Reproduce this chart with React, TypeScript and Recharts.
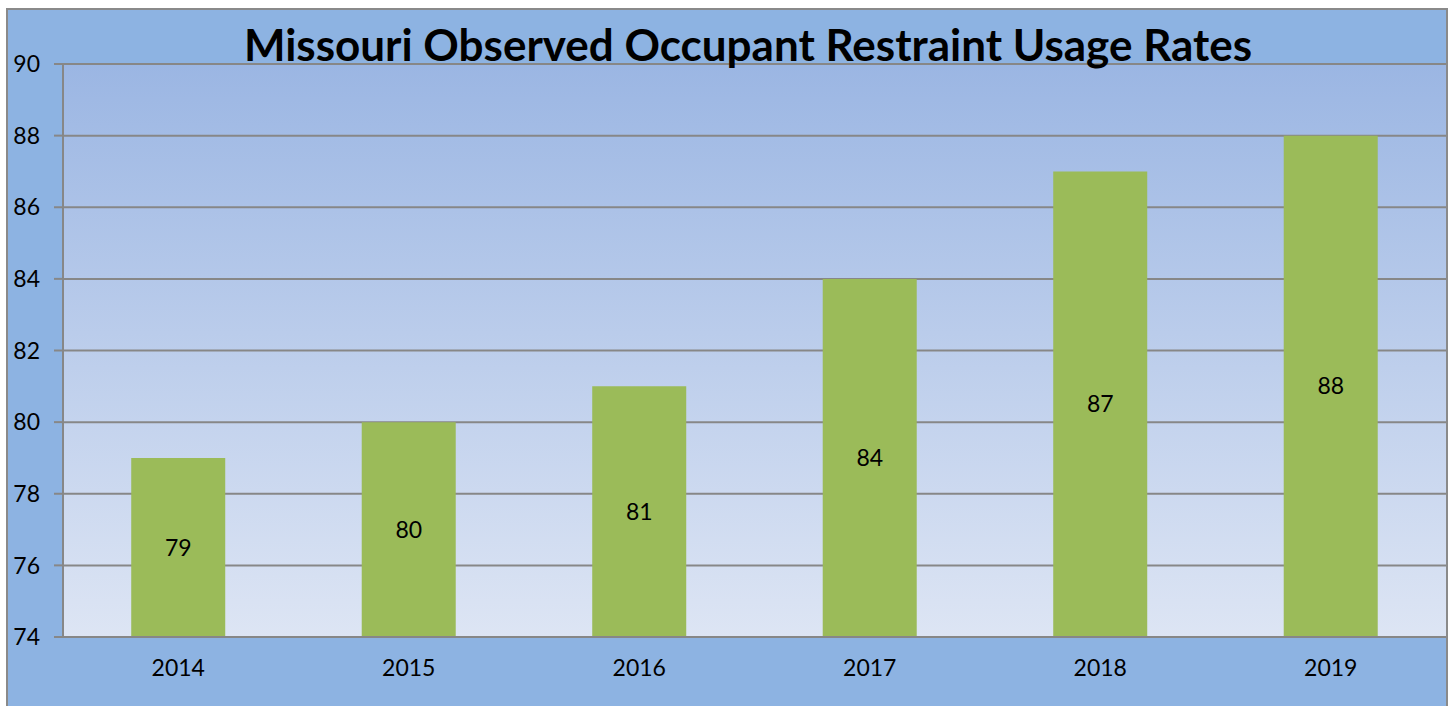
import React from "react";
import { BarChart, Bar, XAxis, YAxis, CartesianGrid, LabelList } from "recharts";

const years = ["2014", "2015", "2016", "2017", "2018", "2019"];
const rates = [79, 80, 81, 84, 87, 88];
const yTicks = [74, 76, 78, 80, 82, 84, 86, 88, 90];

const data = years.map((year, i) => ({ year, rate: rates[i] }));

const FONT = "Lato, 'Open Sans', sans-serif";

export default function App() {
  return (
    <div
      style={{
        position: "absolute",
        left: 6,
        top: 8,
        width: 1438,
        height: 698,
        background: "#8db3e2",
        borderTop: "2px solid #8a8a8a",
        borderLeft: "2px solid #8a8a8a",
        borderRight: "2px solid #8a8a8a",
        fontFamily: FONT,
      }}
    >
      <BarChart
        width={1438}
        height={698}
        data={data}
        margin={{ top: 54, right: 0, bottom: 11, left: 0 }}
        barCategoryGap="29.6%"
      >
        <defs>
          <linearGradient id="plotFill" x1="0" y1="0" x2="0" y2="1">
            <stop offset="0%" stopColor="#9bb6e3" />
            <stop offset="100%" stopColor="#dde5f4" />
          </linearGradient>
        </defs>
        <CartesianGrid
          vertical={false}
          stroke="#878787"
          strokeWidth={2}
          fill="url(#plotFill)"
          fillOpacity={1}
        />
        <XAxis
          dataKey="year"
          height={60}
          tickLine={false}
          tickSize={0}
          tickMargin={23}
          axisLine={{ stroke: "#878787", strokeWidth: 2 }}
          tick={{ fill: "#000", fontSize: 23, fontFamily: FONT }}
        />
        <YAxis
          width={55}
          domain={[74, 90]}
          ticks={yTicks}
          interval={0}
          tickSize={9}
          tickMargin={14}
          axisLine={{ stroke: "#878787", strokeWidth: 2 }}
          tickLine={{ stroke: "#878787", strokeWidth: 2 }}
          tick={{ fill: "#000", fontSize: 23, fontFamily: FONT }}
        />
        <Bar dataKey="rate" fill="#9bbb59" isAnimationActive={false}>
          <LabelList
            dataKey="rate"
            position="center"
            fill="#000"
            fontSize={23}
            fontFamily={FONT}
          />
        </Bar>
      </BarChart>
      <div
        style={{
          position: "absolute",
          left: 0,
          width: 1480,
          top: 12,
          zIndex: 2,
          textAlign: "center",
          fontSize: 44,
          fontWeight: 700,
          lineHeight: "44px",
          color: "#000",
          whiteSpace: "nowrap",
        }}
      >
        Missouri Observed Occupant Restraint Usage Rates
      </div>
    </div>
  );
}
